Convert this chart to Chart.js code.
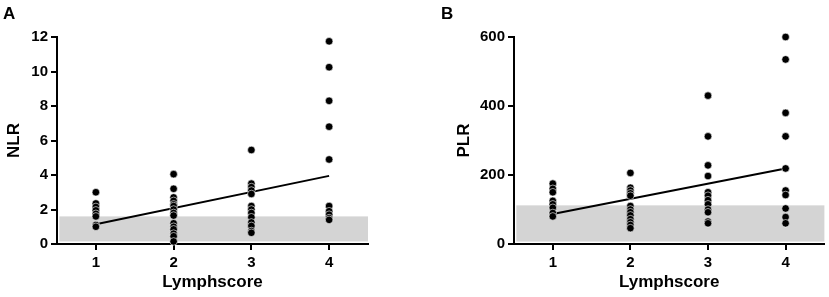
<!DOCTYPE html>
<html>
<head>
<meta charset="utf-8">
<title>Lymphscore NLR / PLR</title>
<script src="https://cdn.jsdelivr.net/npm/chart.js@4/dist/chart.umd.min.js"></script>
<style>
  html, body { margin: 0; padding: 0; background: #fff; }
  body { width: 829px; height: 297px; position: relative; overflow: hidden; font-family: "Liberation Sans", Arial, sans-serif; }
  .panel { position: absolute; top: 0; height: 297px; }
  #wrapA { left: 0; width: 414px; }
  #wrapB { left: 414px; width: 415px; }
  .tag { position: absolute; top: 4px; font-weight: bold; font-size: 17px; color: #000; }
</style>
</head>
<body>
<div class="panel" id="wrapA"><canvas id="chartA"></canvas></div>
<div class="panel" id="wrapB"><canvas id="chartB"></canvas></div>
<div class="tag" style="left:3px">A</div>
<div class="tag" style="left:441px">B</div>
<script>
// x categories (lymphscore)
const scores = [1, 2, 3, 4];

// NLR per lymphscore
const nlr1 = [3.0, 2.35, 2.15, 1.95, 1.75, 1.6, 1.1, 1.0];
const nlr2 = [4.05, 3.2, 2.7, 2.5, 2.3, 2.2, 2.0, 1.8, 1.65, 1.2, 1.0, 0.85, 0.6, 0.45, 0.15];
const nlr3 = [5.45, 3.5, 3.3, 3.1, 2.9, 2.2, 2.0, 1.8, 1.55, 1.25, 1.05, 0.75, 0.65];
const nlr4 = [11.75, 10.25, 8.3, 6.8, 4.9, 2.2, 1.9, 1.7, 1.5, 1.4];
const nlrFit = [1.15, 3.95];      // regression at score 1 and 4
const nlrBand = [0.15, 1.6];      // shaded reference range

// PLR per lymphscore
const plr1 = [175, 160, 150, 125, 115, 105, 90, 80];
const plr2 = [206, 163, 155, 147, 140, 110, 100, 92, 83, 72, 63, 55, 46];
const plr3 = [430, 312, 228, 197, 150, 140, 127, 115, 100, 92, 65, 60];
const plr4 = [600, 535, 380, 312, 219, 155, 142, 103, 78, 60];
const plrFit = [87, 219];
const plrBand = [7, 112];

const FONT = '"Liberation Sans", Arial, sans-serif';

const toPoints = groups => groups.flatMap((g, i) => g.map(v => ({ x: scores[i], y: v })));

const bandPlugin = {
  id: 'band',
  beforeDatasetsDraw(chart, args, opts) {
    const { ctx, scales: { x, y } } = chart;
    const x0 = x.getPixelForValue(0.53), x1 = x.getPixelForValue(4.5);
    const y0 = y.getPixelForValue(opts.lo), y1 = y.getPixelForValue(opts.hi);
    ctx.save();
    ctx.fillStyle = '#d4d4d4';
    ctx.fillRect(x0, y1, x1 - x0, y0 - y1);
    ctx.restore();
  }
};

function makeChart(id, groups, fit, band, yTitle, yMax, yStep, opt) {
  return new Chart(document.getElementById(id), {
    type: 'scatter',
    data: {
      datasets: [
        { data: [{ x: scores[0], y: fit[0] }, { x: scores[3], y: fit[1] }],
          showLine: true, borderColor: '#000', borderWidth: 2, pointRadius: 0, order: 2 },
        { data: toPoints(groups), backgroundColor: '#000', borderColor: '#fff', borderWidth: 0.6,
          pointRadius: 3.8, clip: false, order: 1 }
      ]
    },
    options: {
      responsive: true,
      maintainAspectRatio: false,
      animation: false,
      layout: { padding: { left: opt.padL, right: opt.padR, top: 37, bottom: 0 } },
      plugins: { legend: { display: false }, tooltip: { enabled: false }, band: { lo: band[0], hi: band[1] } },
      scales: {
        x: {
          type: 'linear', min: 0.5, max: 4.5,
          afterBuildTicks: s => { s.ticks = scores.map(v => ({ value: v })); },
          afterFit: s => { s.height = 53; },
          border: { color: '#000', width: 2 },
          grid: { drawOnChartArea: false, drawTicks: true, tickLength: 6, color: '#000', lineWidth: 2 },
          ticks: { color: '#000', padding: 4, font: { family: FONT, size: 15, weight: 'bold' } },
          title: { display: true, text: 'Lymphscore', color: '#000', padding: { top: 2 },
                   font: { family: FONT, size: 17, weight: 'bold' } }
        },
        y: {
          min: 0, max: yMax,
          ticks: { stepSize: yStep, color: '#000', padding: 3, font: { family: FONT, size: 15, weight: 'bold' } },
          afterFit: s => { s.width = opt.axisW; },
          border: { color: '#000', width: 2 },
          grid: { drawOnChartArea: false, drawTicks: true, tickLength: 6, color: '#000', lineWidth: 2 },
          title: { display: true, text: yTitle, color: '#000', padding: { bottom: 0, top: 4 },
                   font: { family: FONT, size: 17, weight: 'bold' } }
        }
      }
    },
    plugins: [bandPlugin]
  });
}

makeChart('chartA', [nlr1, nlr2, nlr3, nlr4], nlrFit, nlrBand, 'NLR', 12, 2,
  { padL: 0, padR: 46, axisW: 57 });
makeChart('chartB', [plr1, plr2, plr3, plr4], plrFit, plrBand, 'PLR', 600, 200,
  { padL: 36, padR: 3, axisW: 64 });
</script>
</body>
</html>
